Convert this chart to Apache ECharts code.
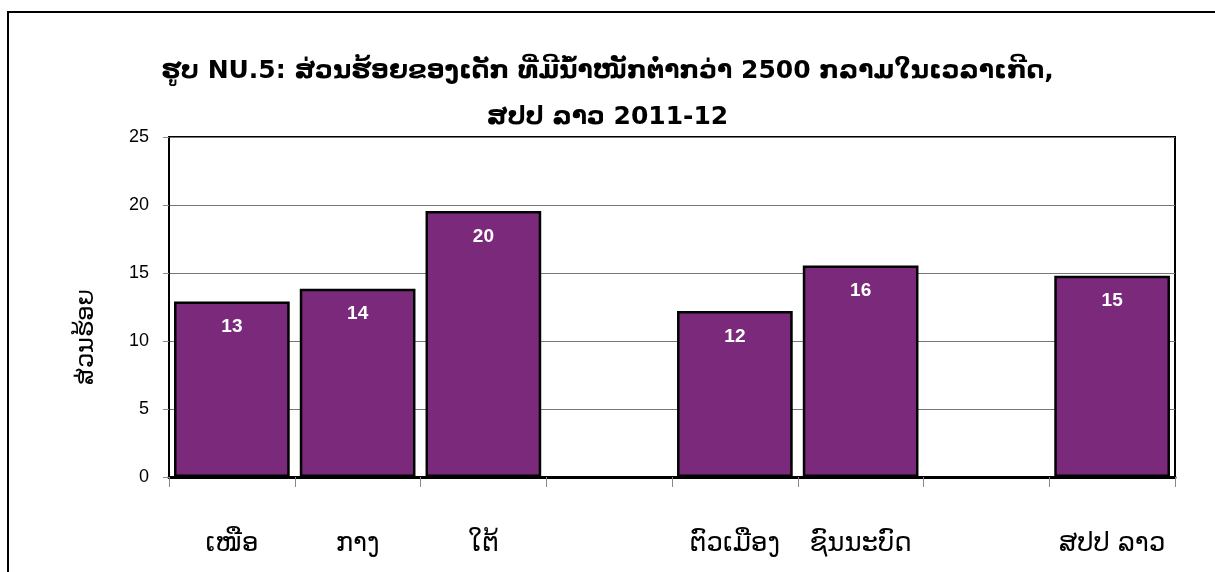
<!DOCTYPE html>
<html>
<head>
<meta charset="utf-8">
<script src="https://cdn.jsdelivr.net/npm/echarts@6/dist/echarts.min.js"></script>
<style>
  html, body { margin: 0; padding: 0; background: #fff; }
  #chart { width: 1215px; height: 572px; }
</style>
</head>
<body>
<div id="chart"></div>
<script>
// ຂໍ້ມູນ: ສອງຊ່ອງຫວ່າງແມ່ນໄວ້ແຍກກຸ່ມ
const categories = ['ເໜືອ', 'ກາງ', 'ໃຕ້', '', 'ຕົວເມືອງ', 'ຊົນນະບົດ', '', 'ສປປ ລາວ']
const percentValues = [12.9, 13.85, 19.55, null, 12.2, 15.55, null, 14.8]
const yTicks = { min: 0, max: 25, interval: 5 }

const titleLines = [
  'ຮູບ NU.5: ສ່ວນຮ້ອຍຂອງເດັກ ທີ່ມີນ້ຳໜັກຕ່ຳກວ່າ 2500 ກລາມໃນເວລາເກີດ,',
  'ສປປ ລາວ 2011-12'
]
const yName = 'ສ່ວນຮ້ອຍ'

const chart = echarts.init(document.getElementById('chart'))

const option = {
  animation: false,
  backgroundColor: '#fff',
  graphic: [
    {
      // ກອບນອກ (ເບື້ອງຊ້າຍ ແລະ ເທິງ)
      type: 'rect',
      shape: { x: 8, y: 12, width: 1400, height: 800 },
      style: { fill: 'none', stroke: '#000', lineWidth: 2 },
      silent: true
    }
  ],
  title: {
    text: titleLines.join('\n'),
    left: 'center',
    top: 43,
    textStyle: {
      fontFamily: '"DejaVu Sans", "Liberation Sans", sans-serif',
      fontWeight: 'bold',
      fontSize: 25,
      lineHeight: 46,
      color: '#000'
    }
  },
  grid: {
    left: 169,
    right: 40,
    top: 137,
    bottom: 95,
    show: true,
    borderColor: '#000',
    borderWidth: 2,
    backgroundColor: 'transparent'
  },
  xAxis: {
    type: 'category',
    data: categories,
    boundaryGap: true,
    axisLine: { lineStyle: { color: '#000', width: 3 } },
    axisTick: { show: true, length: 10, lineStyle: { color: '#888', width: 1 } },
    axisLabel: {
      margin: 54,
      fontSize: 26,
      color: '#000',
      fontFamily: '"DejaVu Sans", sans-serif',
      interval: 0
    }
  },
  yAxis: {
    type: 'value',
    min: yTicks.min,
    max: yTicks.max,
    interval: yTicks.interval,
    name: yName,
    nameLocation: 'middle',
    nameRotate: 90,
    nameGap: 70,
    nameTextStyle: {
      fontSize: 24,
      color: '#000',
      fontFamily: '"DejaVu Sans", sans-serif',
      padding: [0, 60, 0, 0]
    },
    axisLine: { show: true, lineStyle: { color: '#000', width: 2 } },
    axisTick: { show: true, length: 6, lineStyle: { color: '#888' } },
    axisLabel: {
      margin: 20,
      fontSize: 18,
      color: '#000',
      fontFamily: '"Liberation Sans", Arial, sans-serif'
    },
    splitLine: { lineStyle: { color: '#777', width: 1 } }
  },
  series: [
    {
      type: 'bar',
      data: percentValues,
      barCategoryGap: '8%',
      itemStyle: {
        color: '#7b297b',
        borderColor: '#000',
        borderWidth: 2.5
      },
      label: {
        show: true,
        position: 'insideTop',
        distance: 16,
        color: '#fff',
        fontSize: 19,
        fontWeight: 'bold',
        fontFamily: '"Liberation Sans", Arial, sans-serif',
        formatter: p => Math.round(p.value)
      }
    }
  ]
}

chart.setOption(option)
</script>
</body>
</html>
